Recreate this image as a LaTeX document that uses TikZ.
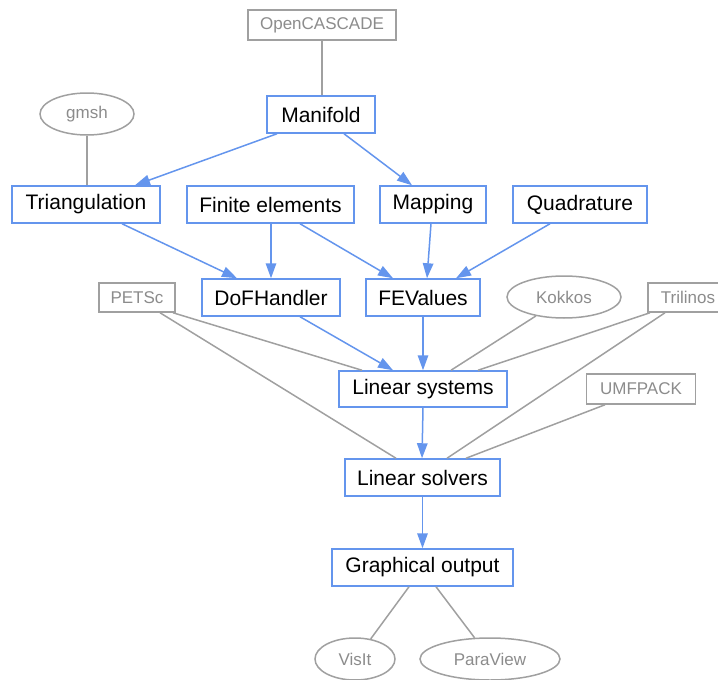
\documentclass[tikz,border=0pt]{standalone}
\usepackage{fontspec}
\setmainfont{Liberation Sans}
\usetikzlibrary{arrows.meta,shapes.geometric}
\definecolor{gvblue}{HTML}{6495ED}
\definecolor{gvgray}{HTML}{A0A0A0}
\definecolor{gvtext}{HTML}{8C8C8C}
\begin{document}
\begin{tikzpicture}[x=1pt,y=-1pt,
  main/.style={draw=gvblue, line width=1.5pt, fill=white, text=black, font=\fontsize{21}{24}\selectfont, inner sep=0pt, minimum height=37pt},
  libbox/.style={draw=gvgray, line width=1.5pt, fill=white, text=gvtext, font=\fontsize{17}{20}\selectfont, inner sep=0pt, minimum height=30pt},
  libell/.style={ellipse, draw=gvgray, line width=1.5pt, fill=white, text=gvtext, font=\fontsize{17}{20}\selectfont, inner sep=0pt, minimum height=42pt},
  dep/.style={draw=gvblue, line width=1.5pt, -{Triangle[length=15pt,width=10.5pt]}},
  use/.style={draw=gvgray, line width=1.5pt}]
\useasboundingbox (0,0) rectangle (718,680);
\clip (0,0) rectangle (718,680);
% nodes
\node[libbox, minimum width=148pt] (occ) at (322,25) {OpenCASCADE};
\node[main, minimum width=108pt] (man) at (321,114.5) {Manifold};
\node[libell, minimum width=94pt, minimum height=42pt] (gmsh) at (87,114) {gmsh};
\node[main, minimum width=148pt] (tri) at (86,204.5) {Triangulation};
\node[main, minimum width=167pt] (fe) at (270.5,204.5) {Finite elements};
\node[main, minimum width=106pt] (map) at (433,204.5) {Mapping};
\node[main, minimum width=134pt] (quad) at (580,204.5) {Quadrature};
\node[main, minimum width=138pt] (dof) at (271,297.5) {DoFHandler};
\node[main, minimum width=114pt] (fev) at (423,297.5) {FEValues};
\node[libbox, minimum width=76pt, minimum height=29pt] (petsc) at (137,297.5) {PETSc};
\node[libell, minimum width=114pt, minimum height=42pt] (kok) at (564,297) {Kokkos};
\node[libbox, minimum width=80pt, minimum height=29pt] (tril) at (688,297.5) {Trilinos};
\node[main, minimum width=168pt, minimum height=36pt] (ls) at (423,389) {Linear systems};
\node[libbox, minimum width=109pt] (umf) at (641,389) {UMFPACK};
\node[main, minimum width=155pt] (lsol) at (422.5,477.5) {Linear solvers};
\node[main, minimum width=181pt] (go) at (422.5,567.5) {Graphical output};
\node[libell, minimum width=80pt, minimum height=42pt] (vis) at (355,659) {VisIt};
\node[libell, minimum width=140pt, minimum height=42pt] (para) at (490,659) {ParaView};
% gray connectors
\draw[use] (occ.south) -- (occ.south |- man.north);
\draw[use] (gmsh.south) -- (gmsh.south |- tri.north);
\draw[use] ([xshift=36pt]petsc.south) -- ([xshift=-61pt]ls.north);
\draw[use] ([xshift=23pt]petsc.south) -- ([xshift=-26.5pt]lsol.north);
\draw[use] (kok.214) -- ([xshift=28pt]ls.north);
\draw[use] ([xshift=-38pt]tril.south) -- ([xshift=55pt]ls.north);
\draw[use] ([xshift=-23pt]tril.south) -- ([xshift=24.5pt]lsol.north);
\draw[use] ([xshift=-36pt]umf.south) -- ([xshift=43.5pt]lsol.north);
\draw[use] ([xshift=-13.5pt]go.south) -- (vis.52);
\draw[use] ([xshift=13.5pt]go.south) -- (para.126);
% blue connectors
\draw[dep] ([xshift=-44pt]man.south) -- ([xshift=49pt]tri.north);
\draw[dep] ([xshift=23pt]man.south) -- ([xshift=-21pt]map.north);
\draw[dep] ([xshift=36pt]tri.south) -- ([xshift=-34pt]dof.north);
\draw[dep] ([xshift=0.5pt]fe.south) -- (dof.north);
\draw[dep] ([xshift=29.5pt]fe.south) -- ([xshift=-30pt]fev.north);
\draw[dep] ([xshift=-2pt]map.south) -- ([xshift=4pt]fev.north);
\draw[dep] ([xshift=-30pt]quad.south) -- ([xshift=33pt]fev.north);
\draw[dep] ([xshift=29pt]dof.south) -- ([xshift=-30pt]ls.north);
\draw[dep] (fev.south) -- (ls.north);
\draw[dep] (ls.south) -- ([xshift=-0.5pt]lsol.north);
\draw[dep] (lsol.south) -- (go.north);
\end{tikzpicture}
\end{document}
